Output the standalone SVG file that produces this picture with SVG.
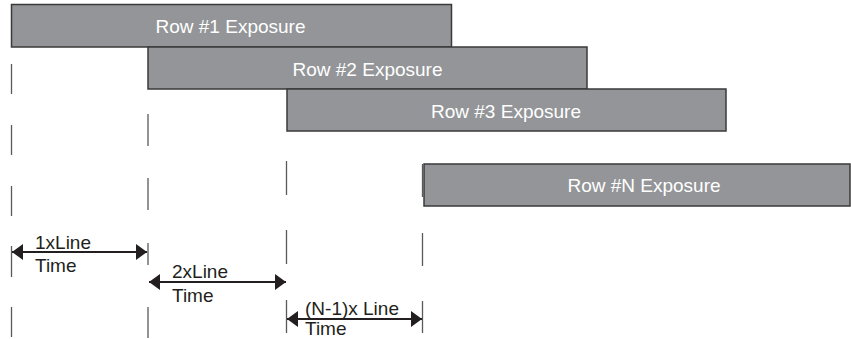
<svg xmlns="http://www.w3.org/2000/svg" width="851" height="339" viewBox="0 0 851 339">
<defs>
<style>
.box{fill:#939598;stroke:#3a3a3a;stroke-width:1.5}
.lbl{font-family:"Liberation Sans",Arial,sans-serif;font-size:19px;fill:#ffffff;text-anchor:middle}
.alb{font-family:"Liberation Sans",Arial,sans-serif;font-size:19px;fill:#231f20}
.tick{stroke:#5a5a5a;stroke-width:1.3;fill:none}
.arr{stroke:#231f20;stroke-width:2;fill:none;marker-start:url(#ah);marker-end:url(#ah)}
</style>
<marker id="ah" markerUnits="userSpaceOnUse" markerWidth="11" markerHeight="16" refX="11" refY="8" orient="auto-start-reverse">
<path d="M0,0 L11,8 L0,16 z" fill="#231f20"/>
</marker>
</defs>
<rect width="851" height="339" fill="#ffffff"/>
<g id="row1">
<rect class="box" x="11.5" y="4.5" width="440" height="42.5"/>
<text class="lbl" x="230.5" y="33">Row #1 Exposure</text>
</g>
<g id="row2">
<rect class="box" x="148" y="47" width="439" height="42"/>
<text class="lbl" x="367.5" y="76">Row #2 Exposure</text>
</g>
<g id="row3">
<rect class="box" x="287" y="89" width="439" height="42"/>
<text class="lbl" x="506" y="118">Row #3 Exposure</text>
</g>
<g id="rowN">
<rect class="box" x="424" y="164" width="426" height="42"/>
<text class="lbl" x="644" y="192">Row #N Exposure</text>
</g>
<g id="ticks">
<path class="tick" d="M11.5,64V94M11.5,125V155M11.5,186V216M11.5,246V277M11.5,307V337"/>
<path class="tick" d="M148,114V146M148,178V210M148,243V265M148,307V338"/>
<path class="tick" d="M286.5,161V195M286.5,230V264M286.5,300V333"/>
<path class="tick" d="M422.5,164V197M422.5,233V266M422.5,301V333"/>
</g>
<g id="connectors">
<line class="arr" x1="12" y1="252" x2="147" y2="252"/>
<line class="arr" x1="149" y1="282" x2="286" y2="282"/>
<line class="arr" x1="287" y1="319" x2="422" y2="319"/>
</g>
<g id="labels">
<text class="alb" x="35" y="249">1xLine</text>
<text class="alb" x="35" y="272">Time</text>
<text class="alb" x="172" y="278">2xLine</text>
<text class="alb" x="172" y="302">Time</text>
<text class="alb" x="305" y="315">(N-1)x Line</text>
<text class="alb" x="305" y="335">Time</text>
</g>
</svg>
